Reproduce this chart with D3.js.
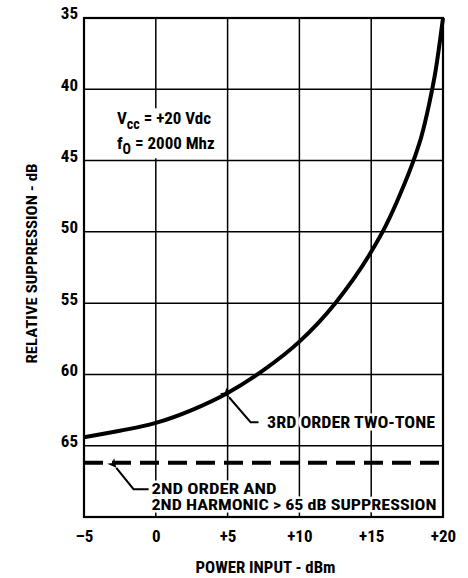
<!DOCTYPE html>
<html lang="en">
<meta charset="utf-8">
<script src="https://d3js.org/d3.v7.min.js"></script>
<style type="text/css">
    body {
        margin: 0;
        background-color: #ffffff;
    }
    text {
        font-family: "Liberation Sans Narrow", "Roboto Condensed", "DejaVu Sans Condensed", "Liberation Sans", sans-serif;
        font-weight: bold;
        fill: #000;
    }
    .grid line {
        stroke: #000;
        stroke-width: 1.5px;
    }
    .halo {
        stroke: #fff;
        stroke-width: 5px;
        paint-order: stroke;
        stroke-linejoin: round;
    }
</style>
<body>
<script type="text/javascript">
    // values
    var power = [-5, -2.5, 0, 2.5, 5, 7.5, 10, 12.5, 15, 16, 17, 18, 18.5, 19, 19.5, 20];
    var thirdOrder = [64.4, 63.95, 63.4, 62.5, 61.3, 59.7, 57.7, 55.0, 51.4, 49.6, 47.4, 44.85, 43.3, 41.2, 38.6, 35];
    var secondOrder = 66.2;

    var xTicks = [-5, 0, 5, 10, 15, 20];
    var xTickLabels = ["\u20135", "0", "+5", "+10", "+15", "+20"];
    var yTicks = [35, 40, 45, 50, 55, 60, 65];

    var margin = {top: 18, right: 25, bottom: 61, left: 84};
    var width = 468 - margin.left - margin.right;
    var height = 578 - margin.top - margin.bottom;

    var svg = d3.select("body")
        .append("svg")
        .attr("width", 468)
        .attr("height", 578);

    var defs = svg.append("defs");
    defs.append("marker")
        .attr("id", "head")
        .attr("viewBox", "0 0 10 10")
        .attr("refX", 0)
        .attr("refY", 5)
        .attr("markerUnits", "userSpaceOnUse")
        .attr("markerWidth", 13)
        .attr("markerHeight", 9)
        .attr("orient", "auto-start-reverse")
        .append("path")
        .attr("d", "M0,5 L10,0 L7,5 L10,10 Z")
        .attr("fill", "#000");

    var g = svg.append("g")
        .attr("transform", "translate(" + margin.left + "," + margin.top + ")");

    var x = d3.scaleLinear().domain([-5, 20]).range([0, width]);
    var y = d3.scaleLinear().domain([35, 70]).range([0, height]);

    // grid
    var grid = g.append("g").attr("class", "grid");
    grid.selectAll(".v")
        .data(xTicks)
        .enter()
        .append("line")
        .attr("x1", function(d){ return x(d); })
        .attr("x2", function(d){ return x(d); })
        .attr("y1", 0)
        .attr("y2", height);
    grid.selectAll(".h")
        .data(yTicks)
        .enter()
        .append("line")
        .attr("x1", 0)
        .attr("x2", width)
        .attr("y1", function(d){ return y(d); })
        .attr("y2", function(d){ return y(d); });

    g.append("rect")
        .attr("width", width)
        .attr("height", height)
        .attr("fill", "none")
        .attr("stroke", "#000")
        .attr("stroke-width", 2.2);

    // axes (labels only, the frame is the grid)
    var yAxis = d3.axisLeft(y).tickValues(yTicks).tickSize(0).tickPadding(6);
    g.append("g")
        .call(yAxis)
        .call(function(a){ a.select(".domain").remove(); })
        .selectAll("text")
        .attr("dy", "0.05em")
        .style("font-size", "17px");

    var xAxis = d3.axisBottom(x).tickValues(xTicks).tickSize(0).tickPadding(13)
        .tickFormat(function(d, i){ return xTickLabels[i]; });
    g.append("g")
        .attr("transform", "translate(0," + height + ")")
        .call(xAxis)
        .call(function(a){ a.select(".domain").remove(); })
        .selectAll("text")
        .style("font-size", "17px");

    // axis titles
    svg.append("text")
        .attr("transform", "translate(37," + (margin.top + height / 2 - 4) + ") rotate(-90)")
        .attr("text-anchor", "middle")
        .attr("textLength", 200)
        .attr("lengthAdjust", "spacingAndGlyphs")
        .style("font-size", "15px")
        .text("RELATIVE SUPPRESSION - dB");

    svg.append("text")
        .attr("x", margin.left + width / 2 + 2)
        .attr("y", 573)
        .attr("text-anchor", "middle")
        .attr("textLength", 140)
        .attr("lengthAdjust", "spacingAndGlyphs")
        .style("font-size", "16px")
        .text("POWER INPUT - dBm");

    // curves
    var line = d3.line()
        .x(function(d){ return x(d[0]); })
        .y(function(d){ return y(d[1]); })
        .curve(d3.curveMonotoneX);

    g.append("path")
        .attr("d", line(d3.zip(power, thirdOrder)))
        .attr("fill", "none")
        .attr("stroke", "#000")
        .attr("stroke-width", 4);

    g.append("line")
        .attr("x1", 0)
        .attr("x2", width)
        .attr("y1", y(secondOrder))
        .attr("y2", y(secondOrder))
        .attr("stroke", "#000")
        .attr("stroke-width", 4)
        .attr("stroke-dasharray", "19,9");

    // conditions box
    var cond = g.append("g")
        .attr("transform", "translate(" + (x(-2.7)) + "," + y(40) + ")");
    cond.append("rect")
        .attr("x", -2)
        .attr("y", 19)
        .attr("width", 100)
        .attr("height", 50)
        .attr("fill", "#fff");
    var t1 = cond.append("text").attr("y", 35).style("font-size", "17px");
    t1.append("tspan").text("V");
    t1.append("tspan").attr("dy", 5).style("font-size", "14px").text("cc");
    t1.append("tspan").attr("dy", -5).text(" = +20 Vdc");
    var t2 = cond.append("text").attr("y", 60).style("font-size", "17px");
    t2.append("tspan").text("f");
    t2.append("tspan").attr("dy", 5).style("font-size", "14px").text("O");
    t2.append("tspan").attr("dy", -5).text(" = 2000 Mhz");

    // callouts
    var arrow = d3.line()
        .x(function(d){ return x(d[0]); })
        .y(function(d){ return y(d[1]); });

    g.append("path")
        .attr("d", arrow([[5.1, 61.6], [6.6, 63.35], [7.15, 63.35]]))
        .attr("fill", "none")
        .attr("stroke", "#000")
        .attr("stroke-width", 2)
        .attr("marker-start", "url(#head)");
    g.append("text")
        .attr("class", "halo")
        .attr("x", x(7.75))
        .attr("y", y(63.35) + 6)
        .attr("textLength", 168)
        .attr("lengthAdjust", "spacingAndGlyphs")
        .style("font-size", "17px")
        .text("3RD ORDER TWO-TONE");

    g.append("path")
        .attr("d", arrow([[-2.75, 66.55], [-1.55, 68.05], [-0.5, 68.05]]))
        .attr("fill", "none")
        .attr("stroke", "#000")
        .attr("stroke-width", 2)
        .attr("marker-start", "url(#head)");
    var note = g.append("text")
        .attr("class", "halo")
        .attr("y", y(68.05) + 5)
        .style("font-size", "14px");
    note.append("tspan")
        .attr("x", x(-0.3))
        .attr("textLength", 125)
        .attr("lengthAdjust", "spacingAndGlyphs")
        .text("2ND ORDER AND");
    note.append("tspan")
        .attr("x", x(-0.3))
        .attr("dy", 16)
        .attr("textLength", 285)
        .attr("lengthAdjust", "spacingAndGlyphs")
        .text("2ND HARMONIC > 65 dB SUPPRESSION");
</script>
</body>
</html>
